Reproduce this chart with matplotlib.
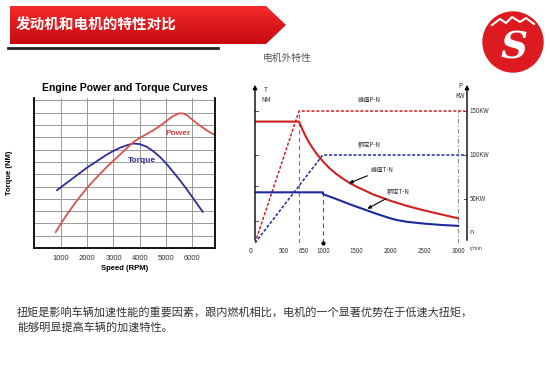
import numpy as np
import matplotlib.pyplot as plt
from matplotlib.patches import Polygon, Circle
from matplotlib.colors import LinearSegmentedColormap

plt.rcParams['font.family'] = ['Noto Sans CJK SC', 'DejaVu Sans']

W, H = 550, 381

# ---- left chart: engine curves (vertical units = grid steps) ----
speed_ticks = [1000, 2000, 3000, 4000, 5000, 6000]
torque_rpm = [850, 1000, 1250, 1500, 1750, 2000, 2250, 2500, 2750, 3000,
              3250, 3500, 3750, 4000, 4250, 4500, 4750, 5000, 5250, 5500,
              5750, 6000, 6200, 6400]
torque_val = [4.7, 4.95, 5.35, 5.75, 6.15, 6.55, 6.9, 7.25, 7.6, 7.9,
              8.15, 8.35, 8.5, 8.45, 8.25, 7.9, 7.45, 6.9, 6.25, 5.6,
              4.9, 4.15, 3.55, 2.95]
power_rpm = [800, 1000, 1250, 1500, 1750, 2000, 2250, 2500, 2750, 3000,
             3250, 3500, 3750, 4000, 4250, 4500, 4750, 5000, 5250, 5500,
             5650, 5800, 6000, 6200, 6400, 6600, 6850]
power_val = [1.3, 2.0, 2.8, 3.55, 4.25, 4.9, 5.5, 6.05, 6.6, 7.1,
             7.6, 8.1, 8.6, 8.95, 9.25, 9.55, 9.9, 10.3, 10.7, 10.95,
             10.95, 10.8, 10.45, 10.1, 9.8, 9.5, 9.2]

# ---- right chart: motor characteristics (vertical unit = KW scale) ----
motor_ticks = [500, 650, 1000, 1500, 2000, 2500, 3000]
kw_ticks = [50, 100, 150]
kw_labels = ['50KW', '100KW', '150KW']
peak_p_rpm = [0, 650, 3100]
peak_p_kw = [0, 150, 150]
rated_p_rpm = [0, 1000, 3100]
rated_p_kw = [0, 100, 100]
peak_t_rpm = [0, 650, 700, 750, 800, 850, 900, 950, 1000, 1100, 1200, 1300,
              1400, 1500, 1750, 2000, 2250, 2500, 2750, 3000]
peak_t_val = [138, 138, 129, 121, 114, 108, 102.5, 97.5, 93, 85, 78.5, 73,
              68, 64, 55, 48, 42, 37, 32.5, 28]
rated_t_rpm = [0, 1000, 1005, 1200, 1400, 1600, 1800, 2000, 2100, 2250,
               2500, 2750, 3000]
rated_t_val = [57.6, 57.6, 55.5, 50, 44, 38.5, 33, 28, 26, 24,
               22, 20.5, 19.5]

red_eng = '#d9534f'
blue_eng = '#2e2e9a'
red_m = '#d02020'
blue_m = '#1c2a9c'


def frac(x0, y0, x1, y1):
    return [x0 / W, 1 - y1 / H, (x1 - x0) / W, (y1 - y0) / H]


fig = plt.figure(figsize=(W / 100, H / 100), dpi=100)

# background layer in pixel coordinates
bg = fig.add_axes([0, 0, 1, 1], zorder=0)
bg.set_xlim(0, W)
bg.set_ylim(H, 0)
bg.axis('off')

banner = Polygon([(10, 6), (266, 6), (286, 25), (266, 44), (10, 44)],
                 closed=True, facecolor='none', edgecolor='none')
bg.add_patch(banner)
cmap = LinearSegmentedColormap.from_list('ban', ['#f22a2a', '#c70a10'])
grad = np.linspace(0, 1, 64).reshape(-1, 1)
im = bg.imshow(grad, cmap=cmap, extent=(10, 286, 44, 6), aspect='auto')
im.set_clip_path(banner)
bg.plot([8, 218], [48, 48], color='#222222', lw=2)
bg.text(16, 25, '发动机和电机的特性对比', color='white', fontsize=10.5,
        fontweight='bold', va='center', ha='left')

# logo
bg.add_patch(Circle((513, 42), 30, color='#dd1a1f'))
bg.text(514, 48, 'S', color='white', fontsize=27, fontweight='bold',
        style='italic', ha='center', va='center', family='DejaVu Serif')
bg.plot([492, 500, 506, 512, 520, 526, 534], [25, 19, 23, 17, 22, 18, 24],
        color='white', lw=1.5)

# body text
bg.text(17, 312, '扭矩是影响车辆加速性能的重要因素，跟内燃机相比，电机的一个显著优势在于低速大扭矩，',
        fontsize=8, color='#333333', va='center')
bg.text(17, 328, '能够明显提高车辆的加速特性。', fontsize=8, color='#333333', va='center')

# ---------------- left chart ----------------
ax = fig.add_axes(frac(34, 98, 215, 248), zorder=1)
ax.set_xlim(-30, 6870)
ax.set_ylim(0, 12.2)
ax.set_xticks(speed_ticks)
ax.set_yticks(range(1, 13))
ax.set_yticklabels([])
ax.grid(True, color='#999999', lw=0.7)
ax.tick_params(length=0, labelsize=5.5, colors='#333333', pad=5)
for lab in ax.get_xticklabels():
    lab.set_family('Liberation Sans')
ax.spines['top'].set_visible(False)
for s in ['left', 'right', 'bottom']:
    ax.spines[s].set_linewidth(1.3)
ax.plot(torque_rpm, torque_val, color=blue_eng, lw=1.3)
ax.plot(power_rpm, power_val, color=red_eng, lw=1.3)
ax.text(5450, 9.3, 'Power', color='#d04040', fontsize=6, fontweight='bold',
        family='Liberation Sans', ha='center', va='center')
ax.text(4070, 7.15, 'Torque', color=blue_eng, fontsize=6, fontweight='bold',
        family='Liberation Sans', ha='center', va='center')
ax.set_title('Engine Power and Torque Curves', fontsize=7.5, fontweight='bold',
             family='Liberation Sans', pad=5)
ax.set_xlabel('Speed (RPM)', fontsize=5.5, fontweight='bold',
              family='Liberation Sans', labelpad=2)
ax.set_ylabel('Torque (NM)', fontsize=5.5, fontweight='bold',
              family='Liberation Sans', labelpad=10)

# ---------------- right chart ----------------
mx = fig.add_axes(frac(255, 82, 467, 243), zorder=1)
mx.set_xlim(0, 3130)
mx.set_ylim(0, 183)
for s in mx.spines.values():
    s.set_visible(False)
mx.set_yticks([])
mx.set_xticks(motor_ticks)
mx.tick_params(axis='x', length=0, labelsize=4.5, colors='#333333', pad=3)
lbls = mx.get_xticklabels()
lbls[0].set_horizontalalignment('right')
lbls[1].set_horizontalalignment('left')
mx.annotate('', xy=(0, 1), xytext=(0, 0), xycoords='axes fraction',
            arrowprops=dict(arrowstyle='-|>', color='black', lw=1,
                            mutation_scale=6))
mx.annotate('', xy=(1, 1), xytext=(1, 0), xycoords='axes fraction',
            arrowprops=dict(arrowstyle='-|>', color='black', lw=1,
                            mutation_scale=6))
for y in [25, 65, 100, 150]:
    mx.plot([0, 45], [y, y], color='#555555', lw=0.7)
for y in kw_ticks:
    mx.plot([3085, 3130], [y, y], color='#555555', lw=0.7)
for y, lab in zip(kw_ticks, kw_labels):
    mx.text(3170, y, lab, fontsize=4.5, color='#333333', va='center',
            clip_on=False)

mx.plot([650, 650], [0, 150], color='#777777', lw=0.8, ls=(0, (4, 3)))
mx.plot([1000, 1000], [0, 57.6], color='#555555', lw=0.8, ls=(0, (4, 3)))
mx.plot([3000, 3000], [0, 150], color='#888888', lw=0.8, ls=(0, (4, 2, 1, 2)))
mx.plot([1000], [0], 'o', color='black', ms=2, clip_on=False)

mx.plot(peak_p_rpm, peak_p_kw, color=red_m, lw=1.1, ls=(0, (2, 1.2)))
mx.plot(rated_p_rpm, rated_p_kw, color=blue_m, lw=1.1, ls=(0, (2, 1.2)))
mx.plot(peak_t_rpm, peak_t_val, color=red_m, lw=1.5)
mx.plot(rated_t_rpm, rated_t_val, color=blue_m, lw=1.5)

mx.text(1680, 163, '峰值P-N', fontsize=4.5, color='#333333', ha='center', va='center')
mx.text(1680, 111, '额定P-N', fontsize=4.5, color='#333333', ha='center', va='center')
mx.annotate('峰值T-N', xy=(1390, 68), xytext=(1700, 83), fontsize=4.5,
            color='#333333', va='center',
            arrowprops=dict(arrowstyle='-|>', color='black', lw=0.8,
                            mutation_scale=5, shrinkA=0, shrinkB=0))
mx.annotate('额定T-N', xy=(1660, 39), xytext=(1950, 58), fontsize=4.5,
            color='#333333', va='center',
            arrowprops=dict(arrowstyle='-|>', color='black', lw=0.8,
                            mutation_scale=5, shrinkA=0, shrinkB=0))

mx.text(-60, -9, '0', fontsize=5, color='#333333', ha='center', va='center')
mx.text(160, 178, 'T\nNM', fontsize=4.5, color='#333333', ha='center',
        va='top', linespacing=1.3)
mx.text(3030, 183, 'P\nKW', fontsize=4.5, color='#333333', ha='center',
        va='top', linespacing=1.3)
mx.text(3170, 12, 'n', fontsize=5, color='#333333', va='center', clip_on=False)
mx.text(3170, -6, 'r/min', fontsize=3.5, color='#333333', va='center',
        clip_on=False)
mx.text(120, 210, '电机外特性', fontsize=7, color='#555555', va='center',
        clip_on=False)

fig.savefig('out.png', dpi=100)
